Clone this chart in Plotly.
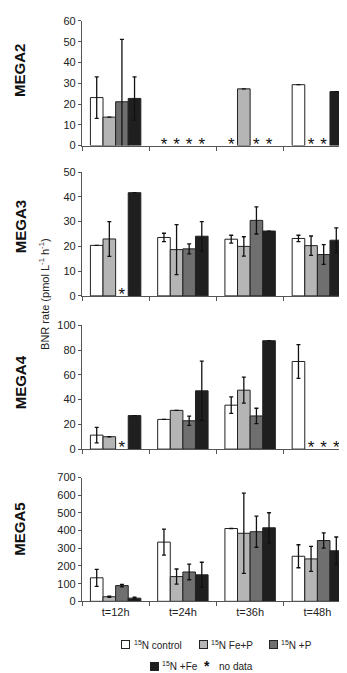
import plotly.graph_objects as go

categories = ["t=12h", "t=24h", "t=36h", "t=48h"]
series_names = ["<sup>15</sup>N control", "<sup>15</sup>N Fe+P", "<sup>15</sup>N +P", "<sup>15</sup>N +Fe"]
panel_names = ["MEGA2", "MEGA3", "MEGA4", "MEGA5"]

# values per panel: [control, Fe+P, +P, +Fe]
mega2_control = [23.1, None, None, 29.3]
mega2_fep = [13.7, None, 27.3, None]
mega2_p = [21.1, None, None, None]
mega2_fe = [22.7, None, None, 26.0]
mega2_control_err = [10, 0, 0, 0]
mega2_fep_err = [0, 0, 0, 0]
mega2_p_err = [30, 0, 0, 0]
mega2_fe_err = [10.4, 0, 0, 0]

mega3_control = [20.4, 23.6, 22.9, 23.2]
mega3_fep = [23.0, 18.7, 20.0, 20.3]
mega3_p = [None, 19.0, 30.5, 16.7]
mega3_fe = [41.7, 24.1, 26.2, 22.5]
mega3_control_err = [0, 1.7, 1.6, 1.3]
mega3_fep_err = [7, 10.1, 3.9, 3.9]
mega3_p_err = [0, 2, 5.5, 4]
mega3_fe_err = [0, 5.9, 0, 5]

mega4_control = [11.3, 24.0, 35.5, 70.8]
mega4_fep = [10.0, 31.3, 47.6, None]
mega4_p = [None, 22.9, 26.8, None]
mega4_fe = [27.1, 47.1, 87.6, None]
mega4_control_err = [6.3, 0, 6.7, 13.7]
mega4_fep_err = [0, 0, 10.5, 0]
mega4_p_err = [0, 3.7, 6.2, 0]
mega4_fe_err = [0, 24, 0, 0]

mega5_control = [133, 335, 412, 255]
mega5_fep = [26, 140, 385, 240]
mega5_p = [89, 166, 394, 344]
mega5_fe = [18, 150, 416, 286]
mega5_control_err = [48, 74, 0, 65]
mega5_fep_err = [4, 43, 227, 71]
mega5_p_err = [7, 44, 88, 43]
mega5_fe_err = [5, 71, 85, 78]

y_ranges = [[0, 60], [0, 50], [0, 100], [0, 700]]
y_dticks = [10, 10, 20, 100]

panels = [
    ([mega2_control, mega2_fep, mega2_p, mega2_fe], [mega2_control_err, mega2_fep_err, mega2_p_err, mega2_fe_err]),
    ([mega3_control, mega3_fep, mega3_p, mega3_fe], [mega3_control_err, mega3_fep_err, mega3_p_err, mega3_fe_err]),
    ([mega4_control, mega4_fep, mega4_p, mega4_fe], [mega4_control_err, mega4_fep_err, mega4_p_err, mega4_fe_err]),
    ([mega5_control, mega5_fep, mega5_p, mega5_fe], [mega5_control_err, mega5_fep_err, mega5_p_err, mega5_fe_err]),
]

colors = ["#ffffff", "#b5b5b5", "#6f6f6f", "#1f1f1f"]
FONT = "Liberation Sans, Arial, sans-serif"
W, H = 347, 673

# panel pixel extents (top, bottom)
panel_px = [(7, 134), (161, 287), (317, 443), (472, 598)]
x_dom = [74 / W, 343 / W]

# legend layout (swatch centre x, text start x, row y) in pixels
legend_items = [(117.5, 123.5, 642), (195, 201, 642), (265, 271, 642), (146, 152, 664)]
nodata_item = (199, 209, 664)

fig = go.Figure()

for pi, (vals, errs) in enumerate(panels):
    xa = "x" if pi == 0 else f"x{pi+1}"
    ya = "y" if pi == 0 else f"y{pi+1}"
    for si in range(4):
        fig.add_trace(go.Bar(
            x=categories, y=vals[si], name=series_names[si],
            marker=dict(color=colors[si], line=dict(color="#222222", width=1)),
            error_y=dict(type="data", array=errs[si], visible=True,
                         color="#111111", thickness=1.3, width=2),
            xaxis=xa, yaxis=ya, offsetgroup=str(si), alignmentgroup=f"g{pi}",
            showlegend=False,
        ))
    for si in range(4):
        miss_x = [c for c, v in zip(categories, vals[si]) if v is None]
        if miss_x:
            fig.add_trace(go.Scatter(
                x=miss_x, y=[0] * len(miss_x), mode="text", text=["*"] * len(miss_x),
                textposition="middle center",
                textfont=dict(size=17, color="#111111", family=FONT),
                xaxis=xa, yaxis=ya, offsetgroup=str(si), alignmentgroup=f"g{pi}",
                showlegend=False, cliponaxis=False, hoverinfo="skip",
            ))

layout = dict(
    width=W, height=H,
    margin=dict(l=0, r=0, t=0, b=0),
    paper_bgcolor="white", plot_bgcolor="white",
    barmode="group", bargap=0.25, bargroupgap=0,
    scattermode="group", scattergap=0.25,
    font=dict(family=FONT, size=11, color="#222222"),
    showlegend=False,
)

annotations = []
for pi in range(4):
    top, bot = panel_px[pi]
    xk = "xaxis" if pi == 0 else f"xaxis{pi+1}"
    yk = "yaxis" if pi == 0 else f"yaxis{pi+1}"
    ya = "y" if pi == 0 else f"y{pi+1}"
    layout[xk] = dict(
        domain=x_dom, anchor=ya, type="category", categoryorder="array", categoryarray=categories,
        showline=True, linecolor="#555555", linewidth=1,
        ticks="outside", tickson="boundaries", ticklen=4, tickcolor="#555555",
        showticklabels=(pi == 3), showgrid=False, zeroline=False,
        tickfont=dict(size=11, family=FONT, color="#222222"),
    )
    layout[yk] = dict(
        domain=[1 - bot / H, 1 - top / H], anchor="x" if pi == 0 else f"x{pi+1}",
        range=y_ranges[pi], dtick=y_dticks[pi], tick0=0,
        showline=True, linecolor="#555555", linewidth=1.2,
        ticks="outside", ticklen=3, tickcolor="#555555",
        showgrid=False, zeroline=False,
        tickfont=dict(size=11, family=FONT, color="#222222"),
    )

label_y = [58, 217, 375, 525]
for pi in range(4):
    annotations.append(dict(
        text=f"<b>{panel_names[pi]}</b>", x=12 / W, y=1 - label_y[pi] / H,
        xref="paper", yref="paper", showarrow=False, textangle=-90,
        font=dict(size=15, family=FONT, color="#111111"),
        xanchor="center", yanchor="middle",
    ))
annotations.append(dict(
    text="BNR rate (pmol L<sup>-1</sup> h<sup>-1</sup>)", x=36 / W, y=1 - 285 / H,
    xref="paper", yref="paper", showarrow=False, textangle=-90,
    font=dict(size=11, family=FONT, color="#222222"),
    xanchor="center", yanchor="middle",
))

# legend (swatches + labels)
for si, (sx, tx, ly) in enumerate(legend_items):
    annotations.append(dict(
        text="&nbsp;", x=sx / W, y=1 - ly / H, xref="paper", yref="paper",
        showarrow=False, xanchor="center", yanchor="middle",
        width=7, height=7, borderpad=0, borderwidth=1, bordercolor="#222222",
        bgcolor=colors[si], font=dict(size=4),
    ))
    annotations.append(dict(
        text=series_names[si], x=tx / W, y=1 - ly / H, xref="paper", yref="paper",
        showarrow=False, xanchor="left", yanchor="middle",
        font=dict(size=10, family=FONT, color="#222222"),
    ))
sx, tx, ly = nodata_item
annotations.append(dict(
    text="<b>*</b>", x=sx / W, y=1 - ly / H, xref="paper", yref="paper",
    showarrow=False, xanchor="center", yanchor="middle",
    font=dict(size=14, family=FONT, color="#111111"),
))
annotations.append(dict(
    text="no data", x=tx / W, y=1 - ly / H, xref="paper", yref="paper",
    showarrow=False, xanchor="left", yanchor="middle",
    font=dict(size=10, family=FONT, color="#222222"),
))

layout["annotations"] = annotations
fig.update_layout(**layout)

fig.write_html("out.html")
